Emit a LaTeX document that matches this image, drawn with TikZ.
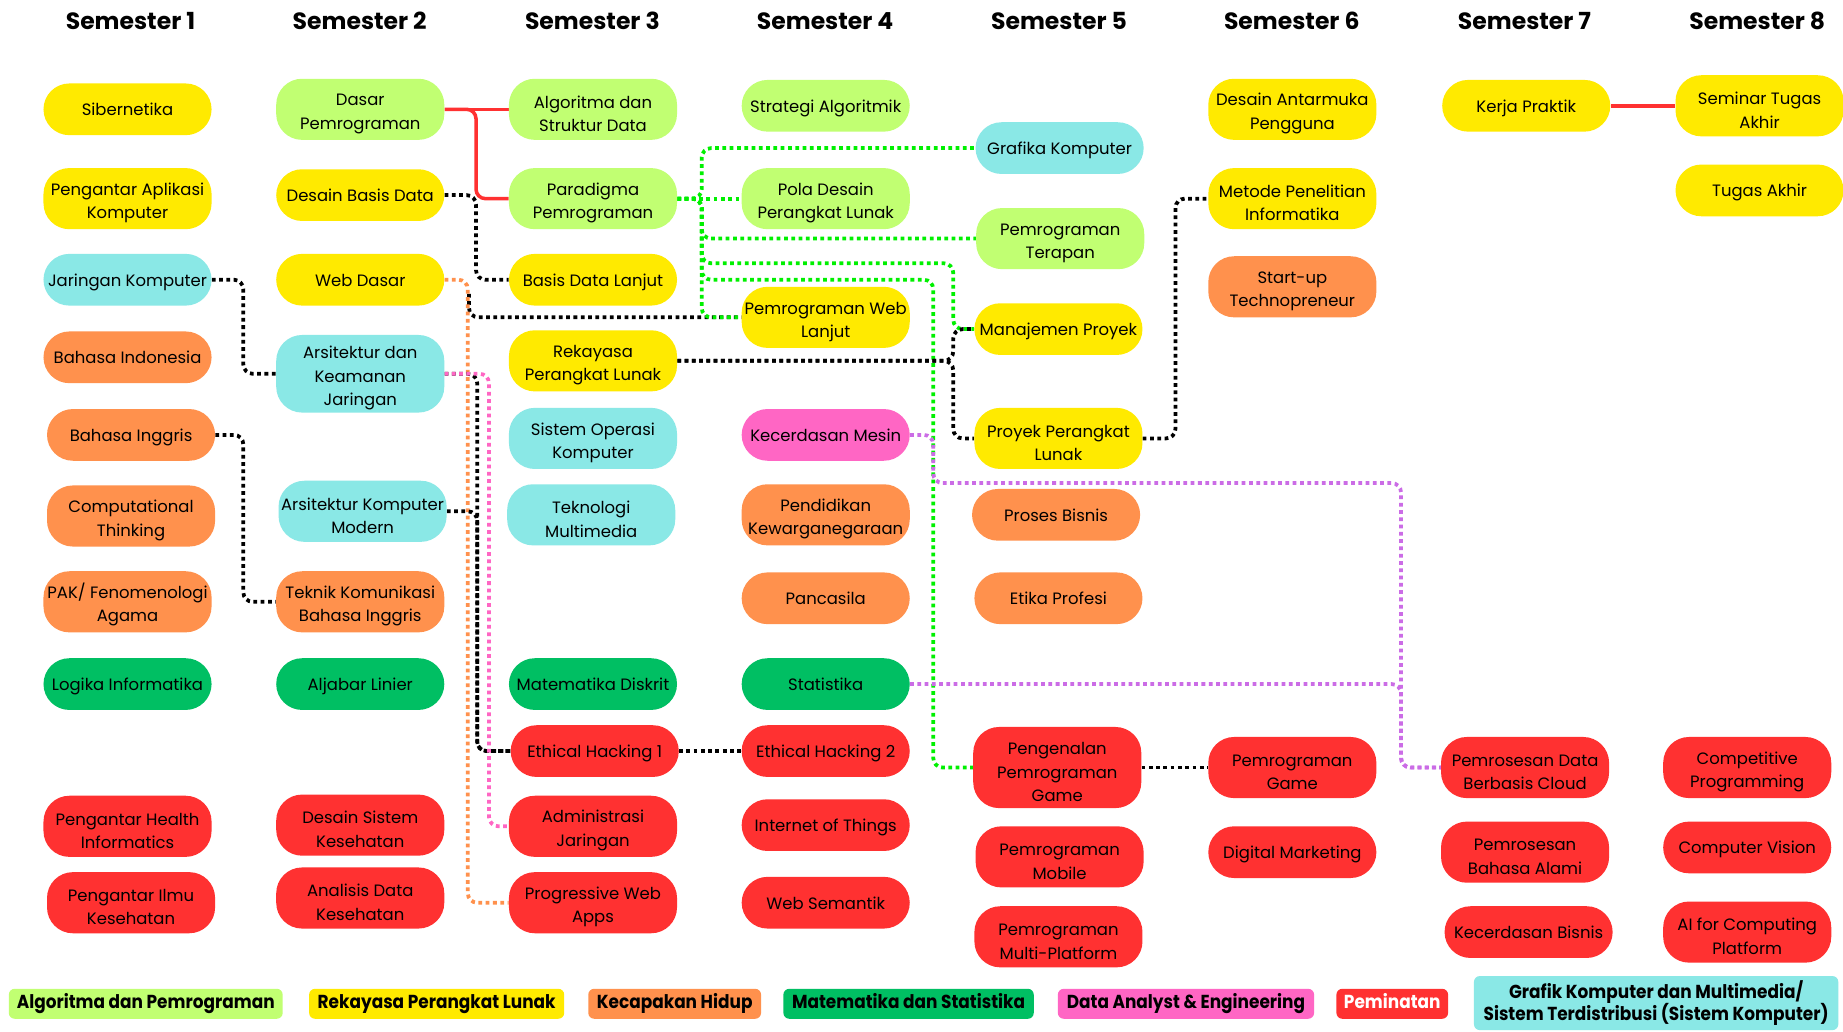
\documentclass[tikz,border=0pt]{standalone}
\usepackage{fontspec}
\setmainfont{Poppins}
\newfontfamily\legendfont[FakeStretch=0.9]{Poppins}
\pgfdeclarelayer{bg}
\pgfsetlayers{bg,main}
\definecolor{cAlgo}{HTML}{C1FF72}
\definecolor{cRPL}{HTML}{FFEA00}
\definecolor{cHidup}{HTML}{FF914D}
\definecolor{cMat}{HTML}{00BF63}
\definecolor{cData}{HTML}{FF66C4}
\definecolor{cPem}{HTML}{FF3131}
\definecolor{cSK}{HTML}{8AE8E6}
\definecolor{lnGreen}{HTML}{00F000}
\definecolor{lnPurple}{HTML}{CB6CE6}
\definecolor{lnRed}{HTML}{FF3131}
\newcommand{\topstrut}{\rule{0pt}{18pt}}
\tikzset{
  course/.style={rounded corners=22pt, minimum width=143pt, minimum height=44pt,
    inner sep=2pt, align=center, font=\fontsize{14}{20}\selectfont, text=black,
    text height=12.5pt, text depth=1.5pt},
  lines2/.style={minimum height=52pt, text height=, text depth=},
  lines3/.style={minimum height=66pt, text height=, text depth=},
  kAlgo/.style={course, fill=cAlgo},
  kRPL/.style={course, fill=cRPL},
  kHidup/.style={course, fill=cHidup},
  kMat/.style={course, fill=cMat},
  kData/.style={course, fill=cData},
  kPem/.style={course, fill=cPem},
  kSK/.style={course, fill=cSK},
  hdr/.style={font=\fontsize{20}{24}\selectfont\bfseries, text=black},
  lgbox/.style={rounded corners=5pt, minimum height=25.5pt, inner sep=1pt, align=center,
    font=\legendfont\fontsize{16}{19}\selectfont\bfseries, text=black,
    text height=11.5pt, text depth=3.5pt},
  dotln/.style={line width=3.2pt, dash pattern=on 3.2pt off 3pt, rounded corners=8pt},
  blk/.style={dotln, draw=black},
  org/.style={dotln, draw=cHidup},
  pnk/.style={dotln, draw=cData},
  grn/.style={dotln, draw=lnGreen},
  prp/.style={dotln, draw=lnPurple},
  redl/.style={line width=3pt, draw=lnRed, rounded corners=8pt},
}
\begin{document}
\begin{tikzpicture}[x=1pt,y=-1pt]
\useasboundingbox (0,0) rectangle (1568,878);
\begin{pgfonlayer}{bg}
\fill[white] (0,0) rectangle (1568,878);
\end{pgfonlayer}
% headers
\node[hdr] (h1) at (111,18) {Semester 1};
\node[hdr] (h2) at (306,18) {Semester 2};
\node[hdr] (h3) at (504,18) {Semester 3};
\node[hdr] (h4) at (702,18) {Semester 4};
\node[hdr] (h5) at (901,18) {Semester 5};
\node[hdr] (h6) at (1099,18) {Semester 6};
\node[hdr] (h7) at (1297,18) {Semester 7};
\node[hdr] (h8) at (1495,18) {Semester 8};
% column 1
\node[kRPL] (sib) at (108.5,93) {Sibernetika};
\node[kRPL,lines2] (pak) at (108.5,169) {\topstrut Pengantar Aplikasi\\Komputer};
\node[kSK] (jk) at (108.5,238) {Jaringan Komputer};
\node[kHidup] (bind) at (108.5,304) {Bahasa Indonesia};
\node[kHidup] (bing) at (111.5,370) {Bahasa Inggris};
\node[kHidup,lines2] (ct) at (111.5,439) {\topstrut Computational\\Thinking};
\node[kHidup,lines2] (pakf) at (108.5,512) {\topstrut PAK/ Fenomenologi\\Agama};
\node[kMat] (li) at (108.5,582) {Logika Informatika};
\node[kPem,lines2] (phi) at (108.5,703) {\topstrut Pengantar Health\\Informatics};
\node[kPem,lines2] (pik) at (111.5,768) {\topstrut Pengantar Ilmu\\Kesehatan};
% column 2
\node[kAlgo,lines2] (dp) at (306.5,93) {\topstrut Dasar\\Pemrograman};
\node[kRPL] (dbd) at (306.5,166) {Desain Basis Data};
\node[kRPL] (wd) at (306.5,238) {Web Dasar};
\node[kSK,lines3] (akj) at (306.5,318) {\topstrut Arsitektur dan\\Keamanan\\Jaringan};
\node[kSK,lines2] (akm) at (308.5,435) {\topstrut Arsitektur Komputer\\Modern};
\node[kHidup,lines2] (tkbi) at (306.5,512) {\topstrut Teknik Komunikasi\\Bahasa Inggris};
\node[kMat] (al) at (306.5,582) {Aljabar Linier};
\node[kPem,lines2] (dsk) at (306.5,702) {\topstrut Desain Sistem\\Kesehatan};
\node[kPem,lines2] (adk) at (306.5,764) {\topstrut Analisis Data\\Kesehatan};
% column 3
\node[kAlgo,lines2] (ads) at (504.5,93) {\topstrut Algoritma dan\\Struktur Data};
\node[kAlgo,lines2] (pp) at (504.5,169) {\topstrut Paradigma\\Pemrograman};
\node[kRPL] (bdl) at (504.5,238) {Basis Data Lanjut};
\node[kRPL,lines2] (rpl) at (504.5,307) {\topstrut Rekayasa\\Perangkat Lunak};
\node[kSK,lines2] (sok) at (504.5,373) {\topstrut Sistem Operasi\\Komputer};
\node[kSK,lines2] (tm) at (503,438) {\topstrut Teknologi\\Multimedia};
\node[kMat] (md) at (504.5,582) {Matematika Diskrit};
\node[kPem] (eh1) at (506,639) {Ethical Hacking 1};
\node[kPem,lines2] (aj) at (504.5,703) {\topstrut Administrasi\\Jaringan};
\node[kPem,lines2] (pwa) at (504.5,768) {\topstrut Progressive Web\\Apps};
% column 4
\node[kAlgo] (sa) at (702.5,90) {Strategi Algoritmik};
\node[kAlgo,lines2] (pdpl) at (702.5,169) {\topstrut Pola Desain\\Perangkat Lunak};
\node[kRPL,lines2] (pwl) at (702.5,270) {\topstrut Pemrograman Web\\Lanjut};
\node[kData] (km) at (702.5,370) {Kecerdasan Mesin};
\node[kHidup,lines2] (pkn) at (702.5,438) {\topstrut Pendidikan\\Kewarganegaraan};
\node[kHidup] (pan) at (702.5,509) {Pancasila};
\node[kMat] (stat) at (702.5,582) {Statistika};
\node[kPem] (eh2) at (702.5,639) {Ethical Hacking 2};
\node[kPem] (iot) at (702.5,702) {Internet of Things};
\node[kPem] (ws) at (702.5,768) {Web Semantik};
% column 5
\node[kSK] (gk) at (901.5,126) {Grafika Komputer};
\node[kAlgo,lines2] (pt) at (902,203) {\topstrut Pemrograman\\Terapan};
\node[kRPL] (mp) at (900.5,280) {Manajemen Proyek};
\node[kRPL,lines2] (ppl) at (900.5,373) {\topstrut Proyek Perangkat\\Lunak};
\node[kHidup] (pb) at (898.5,438) {Proses Bisnis};
\node[kHidup] (ep) at (900.5,509) {Etika Profesi};
\node[kPem,lines3,minimum height=69pt] (ppg) at (899.5,653) {\topstrut Pengenalan\\Pemrograman\\Game};
\node[kPem,lines2] (pm) at (901.5,729) {\topstrut Pemrograman\\Mobile};
\node[kPem,lines2] (pmp) at (900.5,797) {\topstrut Pemrograman\\Multi-Platform};
% column 6
\node[kRPL,lines2] (dap) at (1099.5,93) {\topstrut Desain Antarmuka\\Pengguna};
\node[kRPL,lines2] (mpi) at (1099.5,169) {\topstrut Metode Penelitian\\Informatika};
\node[kHidup,lines2] (st) at (1099.5,244) {\topstrut Start-up\\Technopreneur};
\node[kPem,lines2] (pg) at (1099.5,653) {\topstrut Pemrograman\\Game};
\node[kPem] (dm) at (1099.5,725) {Digital Marketing};
% column 7
\node[kRPL] (kp) at (1298.5,90) {Kerja Praktik};
\node[kPem,lines2] (pdbc) at (1297.5,653) {\topstrut Pemrosesan Data\\Berbasis Cloud};
\node[kPem,lines2] (pba) at (1297.5,725) {\topstrut Pemrosesan\\Bahasa Alami};
\node[kPem] (kb) at (1300.5,793) {Kecerdasan Bisnis};
% column 8
\node[kRPL,lines2] (sta) at (1497,90) {\topstrut Seminar Tugas\\Akhir};
\node[kRPL] (ta) at (1497,162) {Tugas Akhir};
\node[kPem,lines2] (cp) at (1486.5,653) {\topstrut Competitive\\Programming};
\node[kPem] (cv) at (1486.5,721) {Computer Vision};
\node[kPem,lines2] (aic) at (1486.5,793) {\topstrut AI for Computing\\Platform};
% legend
\node[lgbox,fill=cAlgo,minimum width=233pt] (l1) at (124,854) {Algoritma dan Pemrograman};
\node[lgbox,fill=cRPL,minimum width=217pt] (l2) at (371.5,854) {Rekayasa Perangkat Lunak};
\node[lgbox,fill=cHidup,minimum width=147pt] (l3) at (574,854) {Kecapakan Hidup};
\node[lgbox,fill=cMat,minimum width=213pt] (l4) at (773,854) {Matematika dan Statistika};
\node[lgbox,fill=cData,minimum width=218pt] (l5) at (1009,854) {Data Analyst \& Engineering};
\node[lgbox,fill=cPem,minimum width=95pt,text=white] (l6) at (1184.5,854) {Peminatan};
\node[lgbox,fill=cSK,minimum width=310pt,minimum height=46pt,text height=,text depth=] (l7) at (1409,853.4) {Grafik Komputer dan Multimedia/\\Sistem Terdistribusi (Sistem Komputer)};
% connectors
\begin{pgfonlayer}{bg}
\draw[redl] (dp.east) -- (ads.west);
\draw[redl] (dp.east) -- (405,93) |- (pp.west);
\draw[redl] (kp.east) -- (sta.west);
\draw[blk] (dbd.east) -- (405,166) |- (bdl.west);
\draw[blk] (jk.east) -- (207,238) |- (akj.west);
\draw[blk] (bing.east) -- (207,370) |- (tkbi.west);
\coordinate (wdj) at (399,250);
\draw[blk] (wdj) |- (pwl.west);
\draw[org] (wd.east) -- (398,238) |- (pwa.west);
\draw[blk] (akj.east) -- (406,318) |- (eh1.west);
\draw[blk] (akm.east) -- (406,435) |- (eh1.west);
\draw[pnk] (akj.east) -- (416,318) |- (aj.west);
\draw[blk] (eh1.east) -- (eh2.west);
\draw[grn] (pp.east) -- (pdpl.west);
\draw[grn] (pp.east) -- (597,169) |- (gk.west);
\draw[grn] (pp.east) -- (597,169) |- (pt.west);
\draw[grn] (pp.east) -- (597,169) |- (811,224) |- (mp.west);
\draw[grn] (pp.east) -- (597,169) |- (794,238) |- (ppg.west);
\draw[grn] (pp.east) -- (597,169) |- (pwl.west);
\draw[blk] (rpl.east) -- (811,307) |- (mp.west);
\draw[blk] (rpl.east) -- (811,307) |- (ppl.west);
\draw[blk] (ppl.east) -- (1000,373) |- (mpi.west);
\draw[blk] (ppg.east) -- (pg.west);
\draw[prp] (km.east) -- (794,370) |- (1192,411) |- (pdbc.west);
\draw[prp] (stat.east) -- (1192,582) |- (pdbc.west);
\end{pgfonlayer}
\end{tikzpicture}
\end{document}
